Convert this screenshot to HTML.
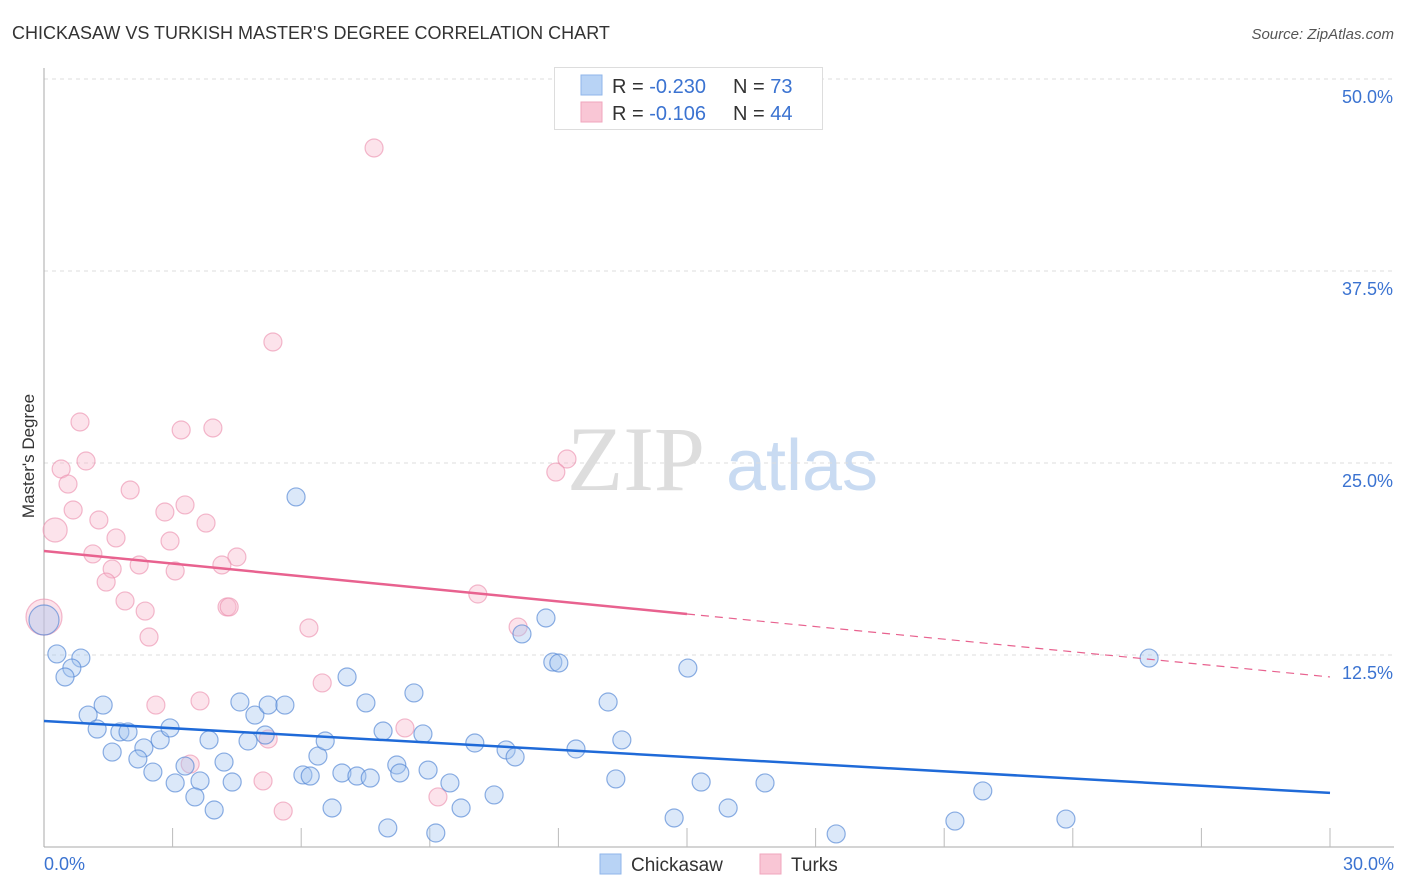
<!DOCTYPE html>
<html><head><meta charset="utf-8"><style>
body{margin:0;background:#fff;font-family:"Liberation Sans",sans-serif;}
svg{display:block}
</style></head><body>
<svg id="chart" width="1406" height="892" xmlns="http://www.w3.org/2000/svg">
<text x="12" y="39" font-size="18" fill="#333">CHICKASAW VS TURKISH MASTER'S DEGREE CORRELATION CHART</text>
<text x="1394" y="39" font-size="15" fill="#555" font-style="italic" text-anchor="end">Source: ZipAtlas.com</text>
<g>
<text x="636" y="490" font-size="92" fill="#ddd" font-family="Liberation Serif,serif" text-anchor="middle">ZIP</text>
<text x="802" y="490" font-size="72" fill="#c9dbf2" text-anchor="middle">atlas</text>
</g>
<g id="grid"></g>
<g id="axes"></g>
<g id="marks"></g>
<text transform="translate(34,456) rotate(-90)" font-size="17" fill="#333" text-anchor="middle">Master's Degree</text>
<g>
<rect x="554.5" y="67.5" width="268" height="62" fill="#fff" stroke="#ddd"/>
<rect x="581" y="75" width="21" height="20" fill="#b8d3f5" stroke="#8fb6ea"/>
<rect x="581" y="102" width="21" height="20" fill="#f9c6d5" stroke="#f0a6bd"/>
<text x="612" y="93" font-size="20" fill="#333">R = <tspan fill="#3b73d1">-0.230</tspan></text>
<text x="733" y="93" font-size="20" fill="#333">N = <tspan fill="#3b73d1"> 73</tspan></text>
<text x="612" y="120" font-size="20" fill="#333">R = <tspan fill="#3b73d1"> -0.106</tspan></text>
<text x="733" y="120" font-size="20" fill="#333">N = <tspan fill="#3b73d1">44</tspan></text>
</g>
<g>
<rect x="600" y="854" width="21" height="20" fill="#b8d3f5" stroke="#8fb6ea"/>
<text x="631" y="871" font-size="19" fill="#333">Chickasaw</text>
<rect x="760" y="854" width="21" height="20" fill="#f9c6d5" stroke="#f0a6bd"/>
<text x="791" y="871" font-size="19" fill="#333">Turks</text>
</g>
</svg>
<script>
const yTicks=[12.5,25,37.5,50];
const yTickLabels=["12.5%","25.0%","37.5%","50.0%"];
const xTickLabels=["0.0%","30.0%"];
const chickX=[0,.30,.86,.65,.49,1.38,1.03,1.24,1.77,1.96,1.59,2.33,2.71,2.19,2.94,2.54,3.29,3.06,3.64,3.52,3.97,3.85,4.57,4.92,5.23,5.62,5.16,4.76,4.39,4.20,6.04,6.21,6.39,6.56,6.72,7.07,6.95,7.30,7.61,7.51,7.91,8.23,8.30,8.63,8.84,8.96,9.47,9.73,8.02,9.14,10.05,10.50,10.78,10.99,11.15,11.71,11.87,12.01,12.41,13.16,13.34,13.48,15.02,14.70,15.33,15.96,16.82,18.48,21.25,21.90,23.84,25.78,5.88];
const chickY=[14.78,12.57,12.30,11.65,11.07,9.24,8.59,7.68,7.49,7.49,6.18,6.45,6.97,5.73,7.75,4.88,5.27,4.17,4.30,3.26,2.41,6.97,9.44,8.59,9.24,9.24,7.29,6.90,4.23,5.53,4.69,4.62,5.92,6.90,2.54,11.07,4.82,4.62,4.49,9.38,7.55,5.34,4.82,10.03,7.36,5.01,4.17,2.54,1.24,0.91,6.77,3.39,6.32,5.86,13.87,14.91,12.04,11.98,6.38,9.44,4.43,6.97,11.65,1.89,4.23,2.54,4.17,0.85,1.69,3.65,1.82,12.30,22.79];
const turkX=[7.70,5.34,.84,3.20,3.94,.98,.40,.56,2.01,3.29,.68,2.82,1.28,3.78,.26,1.68,2.94,1.14,4.50,1.59,2.22,4.15,3.06,1.45,1.89,4.27,4.32,2.36,2.45,6.18,10.12,11.06,0,12.20,11.94,2.61,3.64,6.49,3.41,8.42,5.23,5.11,5.58,9.19];
const turkY=[45.51,32.88,27.67,27.15,27.28,25.13,24.61,23.63,23.24,22.27,21.94,21.81,21.29,21.09,20.64,20.12,19.92,19.08,18.88,18.10,18.36,18.36,17.97,17.25,16.02,15.63,15.63,15.36,13.67,14.26,16.47,14.32,14.97,25.26,24.41,9.24,9.51,10.68,5.40,7.75,7.03,4.30,2.34,3.26];
const chickTrend=[8.2,3.52];
const turkTrend=[19.27,11.07];
const turkSolidEnd=15.0;

const NS="http://www.w3.org/2000/svg";
const X0=44,X1=1330,Y0=847,Y50=79;
const sx=v=>X0+(v/30)*(X1-X0);
const sy=v=>Y0-(v/50)*(Y0-Y50);
function mk(tag,attrs,parent){const e=document.createElementNS(NS,tag);for(const k in attrs)e.setAttribute(k,attrs[k]);parent.appendChild(e);return e;}
const grid=document.getElementById('grid'),axes=document.getElementById('axes'),marks=document.getElementById('marks');
yTicks.forEach((t,i)=>{
 const l=mk('line',{x1:X0,x2:1394,y1:sy(t),y2:sy(t),stroke:'#ddd','stroke-dasharray':'4,4'},grid);
 
 
 const tx=mk('text',{x:1393,y:sy(t)+24,'font-size':18,fill:'#3b73d1','text-anchor':'end'},axes);
 tx.textContent=yTickLabels[i];
 
 
});
const ya=mk('line',{x1:X0,x2:X0,y1:68,y2:Y0,stroke:'#aaa'},axes);


const xa=mk('line',{x1:X0,x2:1394,y1:Y0,y2:Y0,stroke:'#aaa'},axes);


for(let v=3;v<=30;v+=3){
 const t=mk('line',{x1:sx(v),x2:sx(v),y1:828,y2:Y0,stroke:'#bbb'},axes);
 
 
}
[[0,'start',44],[30,'end',1394]].forEach((d,i)=>{
 const tx=mk('text',{x:d[2],y:870,'font-size':18,fill:'#3b73d1','text-anchor':d[1]},axes);
 tx.textContent=xTickLabels[i];
 
 
});
function pts(xs,ys,fill,stroke,name,bigIdx){
 xs.forEach((x,i)=>{
  const r=bigIdx[i]||9;
  const c=mk('circle',{cx:sx(x),cy:sy(ys[i]),r:r,fill:fill,stroke:stroke,'stroke-width':1.2},marks);
  
  
 });
}
pts(turkX,turkY,'rgba(248,185,205,0.4)','rgba(235,140,172,0.6)','turks-point',{32:18,14:12});
pts(chickX,chickY,'rgba(165,198,240,0.4)','rgba(80,132,212,0.65)','chickasaw-point',{0:15});
const bt=mk('line',{x1:sx(0),y1:sy(chickTrend[0]),x2:sx(30),y2:sy(chickTrend[1]),stroke:'#1f6ad8','stroke-width':2.5},marks);


const tAt=v=>turkTrend[0]+(turkTrend[1]-turkTrend[0])*v/30;
const pt=mk('line',{x1:sx(0),y1:sy(turkTrend[0]),x2:sx(turkSolidEnd),y2:sy(tAt(turkSolidEnd)),stroke:'#e8628f','stroke-width':2.5},marks);


const pd=mk('line',{x1:sx(turkSolidEnd),y1:sy(tAt(turkSolidEnd)),x2:sx(30),y2:sy(turkTrend[1]),stroke:'#e8628f','stroke-width':1.2,'stroke-dasharray':'8,6'},marks);


</script>
</body></html>
